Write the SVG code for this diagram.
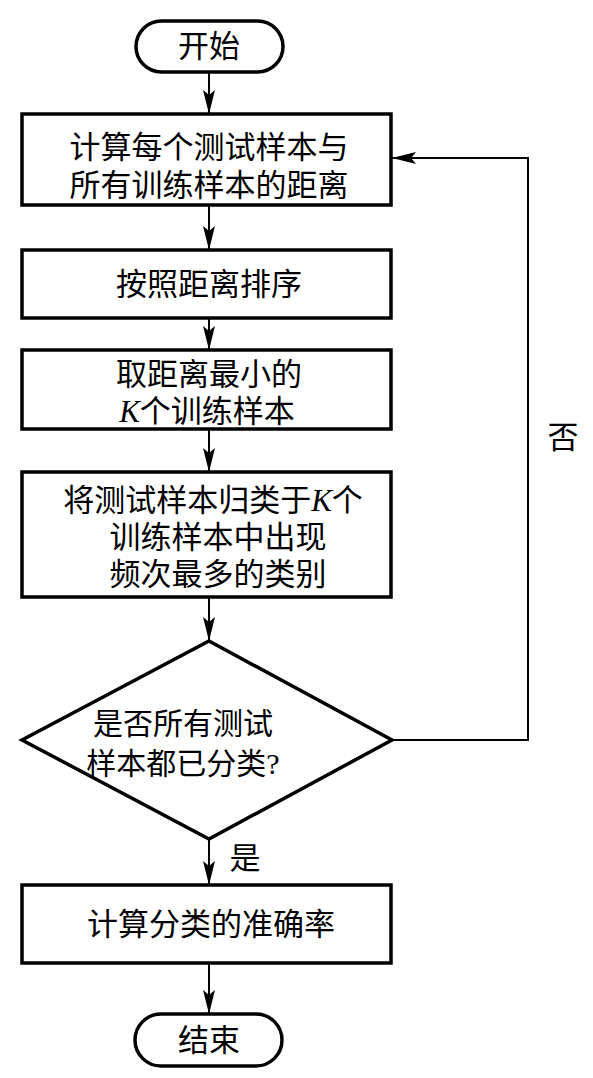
<svg xmlns="http://www.w3.org/2000/svg" width="593" height="1078" viewBox="0 0 593 1078">
<style>
.n{fill:#fff;stroke:#000;stroke-width:3.5}
.t{font-family:"Liberation Serif","Noto Sans CJK SC",serif;font-size:31px;fill:#000;text-anchor:middle}
.d{font-size:30px}
.k{font-style:italic}
.c{fill:none;stroke:#000;stroke-width:2}
</style>
<defs>
<marker id="h" viewBox="0 0 24 12" refX="24" refY="6" markerWidth="24" markerHeight="12" markerUnits="userSpaceOnUse" orient="auto">
<path d="M0,0 L24,6 L0,12 L5,6 Z" fill="#000"/>
</marker>
</defs>
<rect width="593" height="1078" fill="#fff"/>
<g id="connectors">
<line class="c" x1="209" y1="72" x2="209" y2="114" marker-end="url(#h)"/>
<line class="c" x1="209" y1="205" x2="209" y2="250" marker-end="url(#h)"/>
<line class="c" x1="209" y1="318" x2="209" y2="350" marker-end="url(#h)"/>
<line class="c" x1="209" y1="429" x2="209" y2="472" marker-end="url(#h)"/>
<line class="c" x1="209" y1="597" x2="209" y2="641" marker-end="url(#h)"/>
<line class="c" x1="209" y1="839" x2="209" y2="885" marker-end="url(#h)"/>
<line class="c" x1="209" y1="963" x2="209" y2="1014" marker-end="url(#h)"/>
<polyline class="c" points="392,740 528,740 528,158 392,158" marker-end="url(#h)"/>
<text class="t" x="563" y="448">否</text>
<text class="t" x="245" y="869">是</text>
</g>
<g id="start">
<rect class="n" x="136" y="21" width="147" height="51" rx="25.5"/>
<text class="t" x="209" y="57">开始</text>
</g>
<g id="step1">
<rect class="n" x="22" y="114" width="369" height="91"/>
<text class="t" x="209" y="158">计算每个测试样本与</text>
<text class="t" x="209" y="196">所有训练样本的距离</text>
</g>
<g id="step2">
<rect class="n" x="22" y="250" width="369" height="68"/>
<text class="t" x="209" y="295">按照距离排序</text>
</g>
<g id="step3">
<rect class="n" x="22" y="350" width="369" height="79"/>
<text class="t" x="209" y="385">取距离最小的</text>
<text class="t" x="207" y="422"><tspan class="k">K</tspan>个训练样本</text>
</g>
<g id="step4">
<rect class="n" x="22" y="472" width="369" height="125"/>
<text class="t" x="213" y="511"><tspan>将测试样本归类于</tspan><tspan class="k">K</tspan><tspan>个</tspan></text>
<text class="t" x="218" y="548">训练样本中出现</text>
<text class="t" x="218" y="585">频次最多的类别</text>
</g>
<g id="decision">
<polygon class="n" points="209,641 392,740 209,839 22,740"/>
<text class="t d" x="183" y="734">是否所有测试</text>
<text class="t d" x="183" y="774">样本都已分类?</text>
</g>
<g id="step5">
<rect class="n" x="22" y="885" width="369" height="78"/>
<text class="t" x="211" y="935">计算分类的准确率</text>
</g>
<g id="end">
<rect class="n" x="135" y="1014" width="147" height="52" rx="26"/>
<text class="t" x="209" y="1051">结束</text>
</g>
</svg>
